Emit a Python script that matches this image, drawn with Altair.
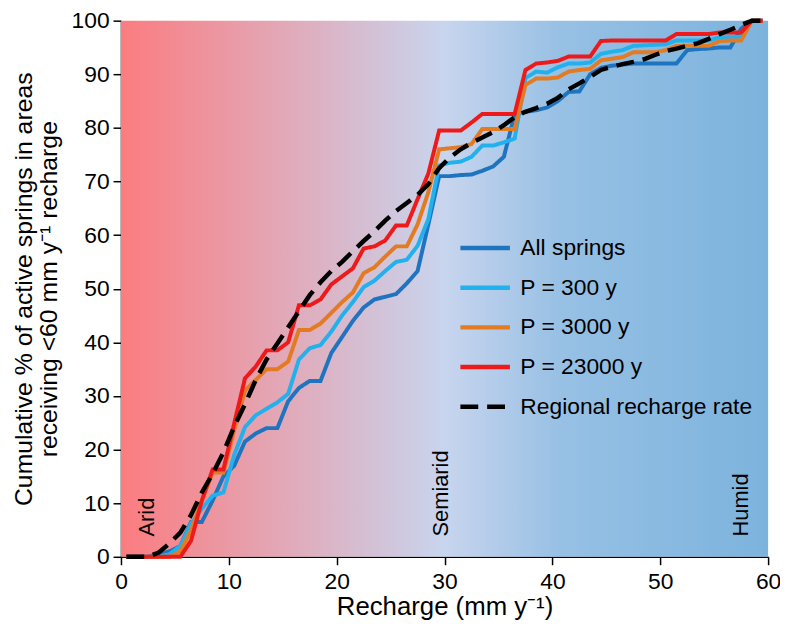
import altair as alt
import pandas as pd

# ---------------- data ----------------
recharge_mm = [0.5, 1.5, 2.5, 3.5, 4.5, 5.5, 6.5, 7.5, 8.5, 9.5,
               10.5, 11.5, 12.5, 13.5, 14.5, 15.5, 16.5, 17.5, 18.5, 19.5,
               20.5, 21.5, 22.5, 23.5, 24.5, 25.5, 26.5, 27.5, 28.5, 29.5,
               30.5, 31.5, 32.5, 33.5, 34.5, 35.5, 36.5, 37.5, 38.5, 39.5,
               40.5, 41.5, 42.5, 43.5, 44.5, 45.5, 46.5, 47.5, 48.5, 49.5,
               50.5, 51.5, 52.5, 53.5, 54.5, 55.5, 56.5, 57.5, 58.5, 59.5]

all_springs = [0, 0, 0, 0.5, 1, 2, 6.5, 6.5, 10.5, 15,
               17, 21.5, 23, 24, 24, 29, 31.5, 32.8, 32.8, 38,
               41, 44, 46.5, 48, 48.5, 49, 51, 53.3, 62, 71,
               71, 71.2, 71.3, 72, 72.8, 74.6, 82.5, 83, 83.3, 83.8,
               85, 86.7, 86.8, 90, 91.2, 91.6, 91.8, 92, 92, 92,
               92, 92, 94.5, 94.7, 94.8, 95, 95, 98.5, 100, 100]

p_300 = [0, 0, 0, 0, 0.5, 2, 6.2, 9, 11.4, 12,
         19, 24.2, 26.4, 27.6, 28.8, 30.4, 36.8, 38.9, 39.5, 42,
         45, 47.5, 50.3, 51.5, 53.3, 55, 55.4, 58, 63, 73,
         73.5, 73.7, 74.6, 76.7, 76.7, 77.3, 78, 89.3, 90.5, 90.3,
         91.3, 92, 92, 92.2, 93.8, 94.2, 94.5, 95.3, 95.4, 95.5,
         95.6, 96.3, 96.3, 96.3, 96.3, 96.9, 96.9, 97, 100, 100]

p_3000 = [0, 0, 0, 0, 0, 1, 5, 10.5, 15.7, 15.7,
          23.6, 31, 33, 35, 35, 36.4, 42.3, 42.3, 43.5, 45.5,
          47.5, 49.3, 52.9, 54, 56, 57.9, 57.9, 62, 68, 76,
          76.2, 76.4, 77, 79.8, 79.8, 79.8, 79.8, 88, 89.2, 89.2,
          89.4, 90.5, 90.8, 91, 92.6, 92.9, 93.2, 94.1, 94.1, 94.1,
          94.5, 95.3, 95.3, 95.3, 95.3, 96.2, 96.3, 96.3, 100, 100]

p_23000 = [0, 0, 0, 0, 0, 0, 3, 10.5, 16.3, 16.3,
           24.9, 33.3, 35.5, 38.5, 38.5, 40, 46.9, 46.9, 48, 50.8,
           52.3, 53.8, 57.5, 57.9, 59, 61.8, 61.8, 66.7, 71.5, 79.5,
           79.5, 79.5, 81, 82.6, 82.6, 82.6, 82.6, 90.8, 92, 92.2,
           92.5, 93.3, 93.3, 93.3, 96.2, 96.3, 96.3, 96.3, 96.3, 96.3,
           96.3, 97.5, 97.5, 97.5, 97.5, 97.8, 97.8, 97.8, 100, 100]

regional = [0, 0, 0, 0.8, 2.5, 4.5, 7.8, 12, 15.5, 19.5,
            24.3, 28.5, 33, 36.8, 39.8, 42.8, 45.8, 48.8, 51.2, 53.3,
            55, 57, 58.9, 60.7, 62.7, 64.5, 66, 67.5, 69.5, 72.5,
            74.5, 76, 77.2, 78.2, 79.2, 80.5, 82, 83, 83.7, 84.5,
            85.6, 87.2, 88.3, 89.5, 90.8, 91.4, 91.9, 92.3, 92.8, 93.6,
            94.3, 94.8, 95.3, 95.8, 96.6, 97.5, 98.3, 99.2, 100, 100]

series_names = ["All springs", "P = 300 y", "P = 3000 y", "P = 23000 y",
                "Regional recharge rate"]
series_values = [all_springs, p_300, p_3000, p_23000, regional]
series_colors = ["#1f74c0", "#22b1ec", "#e27b22", "#ee1a1a", "#000000"]
series_dashes = [[1, 0], [1, 0], [1, 0], [1, 0], [18, 9]]

zone_labels = ["Arid", "Semiarid", "Humid"]
zone_x = [2.4, 29.7, 57.5]
zone_y = [3.8, 3.8, 3.8]

x_ticks = [0, 10, 20, 30, 40, 50, 60]
y_ticks = [0, 10, 20, 30, 40, 50, 60, 70, 80, 90, 100]

# ---------------- tables ----------------
rows = []
for name, vals in zip(series_names, series_values):
    for xv, yv in zip(recharge_mm, vals):
        rows.append({"recharge": xv, "pct": yv, "series": name})
lines_df = pd.DataFrame(rows)

zones_df = pd.DataFrame({"label": zone_labels, "x": zone_x, "y": zone_y})
bg_df = pd.DataFrame({"x": [x_ticks[0]], "x2": [x_ticks[-1]],
                      "y": [y_ticks[0]], "y2": [y_ticks[-1]]})

FONT = "Liberation Sans"

x_scale = alt.Scale(domain=[x_ticks[0], x_ticks[-1]], nice=False, zero=False)
y_scale = alt.Scale(domain=[y_ticks[0], y_ticks[-1]], nice=False)

x_axis = alt.Axis(title="Recharge (mm y\u207b\u00b9)", values=x_ticks,
                  labelFlush=False, labelPadding=6, titlePadding=0,
                  titleFontSize=26)
y_axis = alt.Axis(title=["Cumulative % of active springs in areas",
                         "receiving <60 mm y\u207b\u00b9 recharge"],
                  values=y_ticks, labelFlush=False, labelPadding=4,
                  titlePadding=10, titleLineHeight=25, titleFontSize=25)

gradient = alt.Gradient(
    gradient="linear",
    stops=[alt.GradientStop(offset=0.0, color="#fb7c80"),
           alt.GradientStop(offset=0.25, color="#e2a8b7"),
           alt.GradientStop(offset=0.5, color="#c8d5ee"),
           alt.GradientStop(offset=0.68, color="#97c0e4"),
           alt.GradientStop(offset=1.0, color="#7cb3dd")],
    x1=0, x2=1, y1=0, y2=0)

background = alt.Chart(bg_df).mark_rect(fill=gradient).encode(
    x=alt.X("x:Q", scale=x_scale, axis=x_axis),
    x2="x2:Q",
    y=alt.Y("y:Q", scale=y_scale, axis=y_axis),
    y2="y2:Q",
)

color_enc = alt.Color("series:N",
                      scale=alt.Scale(domain=series_names, range=series_colors),
                      legend=alt.Legend(title=None))
dash_enc = alt.StrokeDash("series:N",
                          scale=alt.Scale(domain=series_names, range=series_dashes),
                          legend=alt.Legend(title=None))

layers = [background]
for name in series_names:
    sw = 4.5 if name == "Regional recharge rate" else 4
    layers.append(
        alt.Chart(lines_df).transform_filter(alt.datum.series == name)
        .mark_line(strokeWidth=sw)
        .encode(
            x=alt.X("recharge:Q", scale=x_scale, axis=x_axis),
            y=alt.Y("pct:Q", scale=y_scale, axis=y_axis),
            color=color_enc,
            strokeDash=dash_enc,
        )
    )

zones = alt.Chart(zones_df).mark_text(
    angle=270, align="left", baseline="middle", fontSize=22, font=FONT,
    color="black"
).encode(
    x=alt.X("x:Q", scale=x_scale, axis=x_axis),
    y=alt.Y("y:Q", scale=y_scale, axis=y_axis),
    text="label:N",
)
layers.append(zones)

chart = alt.layer(*layers).properties(
    width=653, height=541,
    padding={"left": 114, "top": 10, "right": 12, "bottom": 61},
    autosize=alt.AutoSizeParams(type="none"),
).configure_view(stroke=None).configure_axis(
    grid=False, domainColor="black", domainWidth=1.5, tickColor="black",
    tickWidth=1.5, tickSize=8, labelFontSize=23, labelFont=FONT,
    labelColor="black", titleFont=FONT,
    titleColor="black", titleFontWeight="normal",
).configure_legend(
    orient="none", legendX=340, legendY=202, symbolType="stroke",
    symbolSize=2500, symbolStrokeWidth=4.5, labelFontSize=23, labelFont=FONT,
    labelColor="black", rowPadding=-25, labelOffset=8, padding=0,
    labelLimit=0,
)

chart.save("out.html", embed_options={"renderer": "svg", "actions": False})
